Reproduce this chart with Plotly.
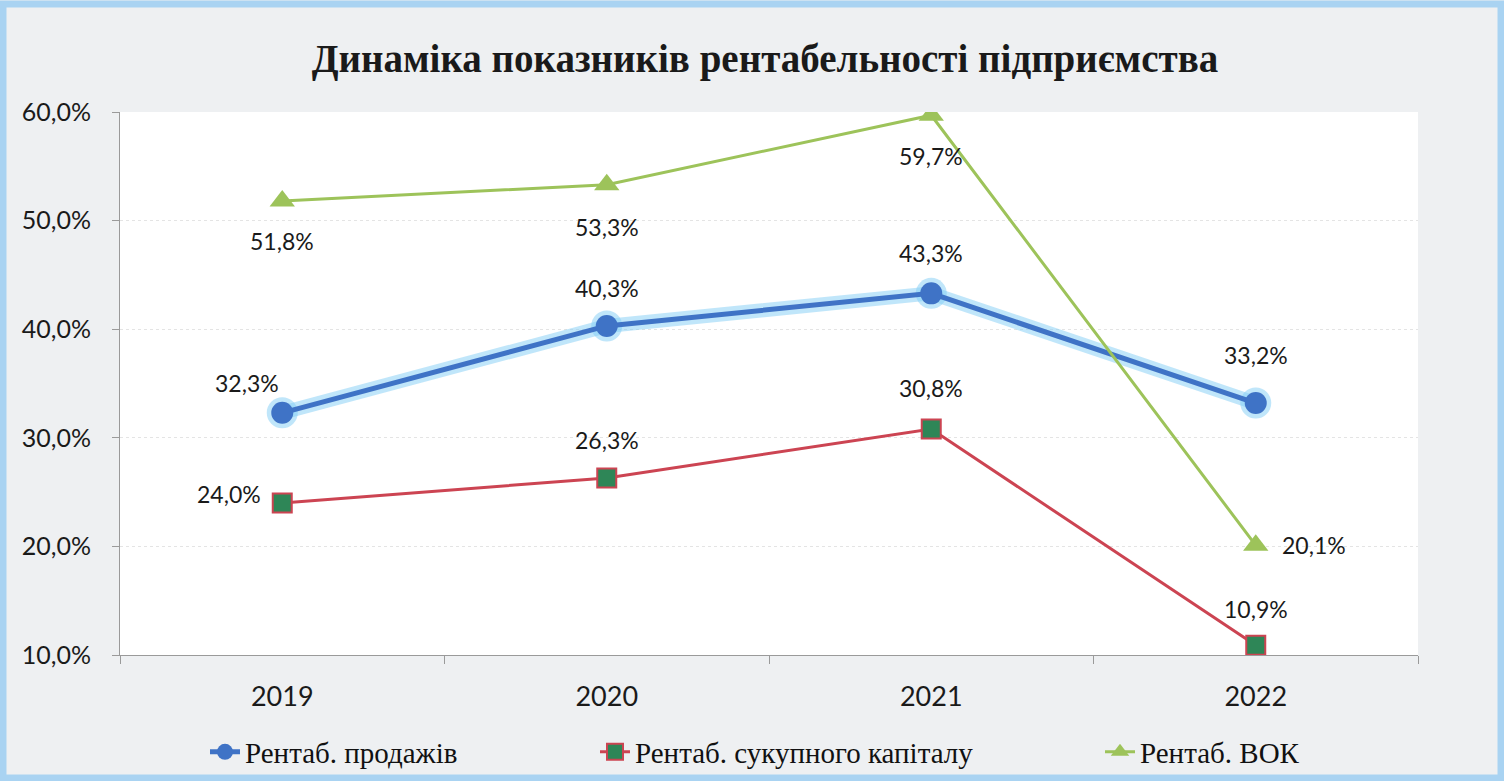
import plotly.graph_objects as go

years = ["2019", "2020", "2021", "2022"]
sales = [32.3, 40.3, 43.3, 33.2]          # Рентаб. продажів
capital = [24.0, 26.3, 30.8, 10.9]        # Рентаб. сукупного капіталу
vok = [51.8, 53.3, 59.7, 20.1]            # Рентаб. ВОК
names = ["Рентаб. продажів", "Рентаб. сукупного капіталу", "Рентаб. ВОК"]
title = "Динаміка показників рентабельності підприємства"

W, H = 1504, 781
ML, MR, MT, MB = 120, 86, 112, 126

BLUE = "#3f73c6"
GLOW = "rgba(130,205,245,0.5)"
RED = "#cc4452"
SQ = "#2e8657"
GREEN = "#9dc35a"

LABEL_FONT = dict(family="Lato, Open Sans, sans-serif", size=23, color="#1a1a1a")

fig = go.Figure()

# glow behind the sales line
fig.add_trace(go.Scatter(x=years, y=sales, mode="lines+markers",
                         line=dict(color=GLOW, width=14),
                         marker=dict(size=31, color=GLOW),
                         showlegend=False, hoverinfo="skip"))
fig.add_trace(go.Scatter(x=years, y=sales, name=names[0], mode="lines+markers",
                         line=dict(color=BLUE, width=5),
                         marker=dict(symbol="circle", size=22, color=BLUE),
                         legend="legend"))
fig.add_trace(go.Scatter(x=years, y=capital, name=names[1], mode="lines+markers",
                         line=dict(color=RED, width=3),
                         marker=dict(symbol="square", size=19, color=SQ,
                                     line=dict(color=RED, width=2)),
                         legend="legend2"))
fig.add_trace(go.Scatter(x=years, y=vok, name=names[2], mode="lines+markers",
                         line=dict(color=GREEN, width=3),
                         marker=dict(symbol="triangle-up", size=22, color=GREEN),
                         legend="legend3"))


def fmt(v):
    return f"{v:.1f}%".replace(".", ",")


anns = []
offs_sales = [(-35, 30), (0, 38), (0, 40), (0, 48)]
offs_cap = [(-53, 9), (0, 38), (0, 41), (0, 36)]
offs_vok = [(0, -40), (0, -42), (0, -41), (58, 0)]
for series, offs in ((sales, offs_sales), (capital, offs_cap), (vok, offs_vok)):
    for i, (v, (dx, dy)) in enumerate(zip(series, offs)):
        anns.append(dict(x=i, y=v, xref="x", yref="y", text=fmt(v), showarrow=False,
                         xshift=dx, yshift=dy, font=LABEL_FONT))

pw = W - ML - MR
ph = H - MT - MB


def px_x(p):
    return (p - ML) / pw


def px_y(p):
    return (H - MB - p) / ph


shapes = [
    dict(type="rect", xref="paper", yref="paper",
         x0=px_x(3), x1=px_x(W - 3), y0=px_y(H - 3), y1=px_y(4),
         line=dict(color="#a9d3f2", width=7), layer="below"),
]

legend_common = dict(orientation="h", xref="container", yref="container",
                     yanchor="middle", xanchor="left", y=(H - 752) / H,
                     bgcolor="rgba(0,0,0,0)",
                     font=dict(family="Liberation Serif, Times New Roman, serif",
                               size=29, color="#111111"),
                     itemwidth=30)

fig.update_layout(
    width=W, height=H,
    margin=dict(l=ML, r=MR, t=MT, b=MB),
    paper_bgcolor="#eef0f2",
    plot_bgcolor="#ffffff",
    separators=", ",
    title=dict(text=title, x=765 / W, xanchor="center", y=1 - 58 / H, yanchor="middle",
               font=dict(family="Liberation Serif, Times New Roman, serif",
                         size=39, color="#1a1a1a", weight="bold")),
    xaxis=dict(type="category", range=[-0.5, 3.5], showgrid=False,
               showline=True, linecolor="#9a9a9a", linewidth=1,
               ticks="outside", tickson="boundaries", ticklen=8, tickcolor="#9a9a9a",
               tickfont=dict(family="Lato, Open Sans, sans-serif", size=27, color="#1a1a1a"),
               ticklabelstandoff=18),
    yaxis=dict(range=[10, 60], dtick=10, tickformat=".1f", ticksuffix="%",
               showgrid=True, gridcolor="#e4e4e4", griddash="dot", zeroline=False,
               showline=True, linecolor="#9a9a9a", linewidth=1,
               ticks="outside", ticklen=7, tickcolor="#9a9a9a",
               tickfont=dict(family="Lato, Open Sans, sans-serif", size=25, color="#1a1a1a"),
               ticklabelstandoff=16),
    annotations=anns,
    shapes=shapes,
    legend=dict(legend_common, x=205 / W),
    legend2=dict(legend_common, x=595 / W),
    legend3=dict(legend_common, x=1100 / W),
)

fig.write_html("out.html", config={"displayModeBar": False},
               post_script="document.body.style.margin='0';")
